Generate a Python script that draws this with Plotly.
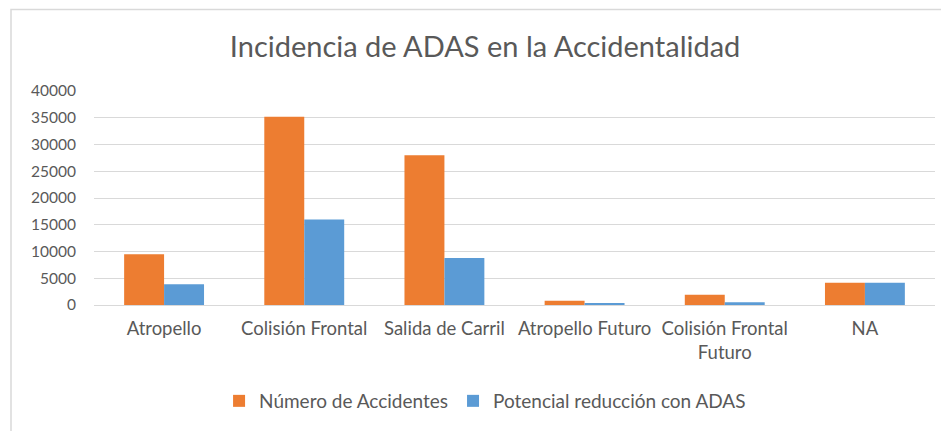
import plotly.graph_objects as go

categories = ["Atropello", "Colisión Frontal", "Salida de Carril", "Atropello Futuro",
              "Colisión Frontal<br>Futuro", "NA"]
accidentes = [9500, 35200, 28000, 800, 1900, 4150]
reduccion = [3900, 16000, 8800, 300, 500, 4150]
y_ticks = [0, 5000, 10000, 15000, 20000, 25000, 30000, 35000, 40000]

FONT = "Lato"
GREY = "#595959"

# page has an 8px body offset; figure sized accordingly
W, H = 941, 423
L, R, T, B = 86, 14, 83, 125
PW = W - L - R
PH = H - T - B

fig = go.Figure()
fig.add_trace(go.Bar(x=categories, y=accidentes, name="Número de Accidentes",
                     marker=dict(color="#ED7D31", line=dict(width=0))))
fig.add_trace(go.Bar(x=categories, y=reduccion, name="Potencial reducción con ADAS",
                     marker=dict(color="#5B9BD5", line=dict(width=0))))

fig.update_layout(
    width=W, height=H,
    margin=dict(l=L, r=R, t=T, b=B),
    paper_bgcolor="white", plot_bgcolor="white",
    barmode="group", bargap=0.43, bargroupgap=0,
    font=dict(family=FONT, color=GREY, size=17),
    title=dict(text="Incidencia de ADAS en la Accidentalidad", x=0.507, xanchor="center",
               y=1 - 39 / H, yanchor="middle", font=dict(size=29, color=GREY, family=FONT)),
    legend=dict(orientation="h", x=0.465, xanchor="center", y=(PH - (393 - T)) / PH,
                yanchor="middle", font=dict(size=19, color=GREY), itemwidth=30),
    showlegend=True,
)
fig.update_xaxes(showgrid=False, showline=False, ticks="", tickfont=dict(size=18.5, color=GREY),
                 ticklabelstandoff=10)
fig.update_yaxes(range=[0, 40000], tickvals=y_ticks, ticktext=[str(v) for v in y_ticks],
                 showgrid=True, gridcolor="#d9d9d9", gridwidth=1, zeroline=True,
                 zerolinecolor="#d9d9d9", zerolinewidth=1, showline=False, ticks="",
                 tickfont=dict(size=15.5, color=GREY), ticklabelstandoff=17)

# chart frame (top and left edges visible)
fig.add_shape(type="rect", xref="paper", yref="paper",
              x0=(3 - L) / PW, x1=(W + 60 - L) / PW,
              y0=-(H + 60 - T - PH) / PH, y1=(PH + T - 1) / PH,
              line=dict(color="#d9d9d9", width=1.5), fillcolor="rgba(0,0,0,0)", layer="below")

fig.write_html("out.html")
